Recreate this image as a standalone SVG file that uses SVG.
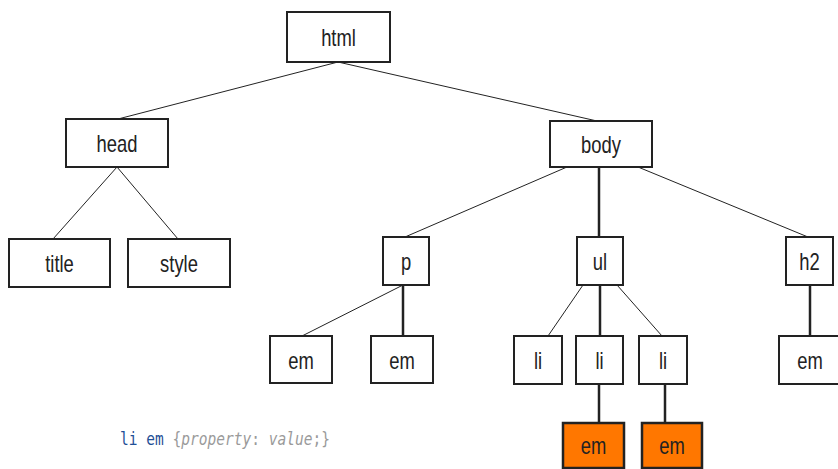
<svg xmlns="http://www.w3.org/2000/svg" width="838" height="469" viewBox="0 0 838 469">
<style>
  .box { fill: #ffffff; stroke: #222222; stroke-width: 2; }
  .hl { fill: #ff7700; stroke: #222222; stroke-width: 2.5; }
  .lbl { font-family: "Liberation Sans", Arial, sans-serif; font-size: 23px; fill: #222222; text-anchor: middle; }
  .thin { stroke: #222222; stroke-width: 1; fill: none; }
  .thick { stroke: #222222; stroke-width: 2.5; fill: none; }
  .code { font-family: "DejaVu Sans Mono", monospace; font-size: 17.5px; }
  .kw { fill: #1f4f96; }
  .gr { fill: #9a9a9a; }
  .it { font-style: italic; }
</style>
<rect width="838" height="469" fill="#ffffff"/>
<g id="connectors">
  <line class="thin" x1="338" y1="62" x2="118" y2="119"/>
  <line class="thin" x1="338" y1="62" x2="597" y2="121"/>
  <line class="thin" x1="117" y1="167" x2="53" y2="239"/>
  <line class="thin" x1="117" y1="167" x2="178" y2="239"/>
  <line class="thin" x1="567" y1="167" x2="405" y2="237"/>
  <line class="thick" x1="599" y1="167" x2="599" y2="237"/>
  <line class="thin" x1="638" y1="167" x2="808" y2="237"/>
  <line class="thin" x1="403" y1="285" x2="302" y2="336"/>
  <line class="thick" x1="403" y1="285" x2="403" y2="336"/>
  <line class="thin" x1="583" y1="285" x2="548" y2="336"/>
  <line class="thick" x1="600" y1="285" x2="600" y2="336"/>
  <line class="thin" x1="617" y1="285" x2="662" y2="336"/>
  <line class="thick" x1="599" y1="384" x2="599" y2="423"/>
  <line class="thick" x1="665" y1="384" x2="665" y2="423"/>
  <line class="thick" x1="810" y1="285" x2="810" y2="336"/>
</g>
<g id="n-html"><rect class="box" x="287" y="12" width="103" height="50"/><text class="lbl" transform="translate(338.5 46) scale(0.8 1)">html</text></g>
<g id="n-head"><rect class="box" x="66" y="119" width="102" height="48"/><text class="lbl" transform="translate(117 152) scale(0.8 1)">head</text></g>
<g id="n-title"><rect class="box" x="9" y="239" width="101" height="48"/><text class="lbl" transform="translate(59.5 272) scale(0.8 1)">title</text></g>
<g id="n-style"><rect class="box" x="128" y="239" width="102" height="48"/><text class="lbl" transform="translate(179 272) scale(0.8 1)">style</text></g>
<g id="n-body"><rect class="box" x="550" y="121" width="102" height="46"/><text class="lbl" transform="translate(601 153) scale(0.8 1)">body</text></g>
<g id="n-p"><rect class="box" x="383" y="237" width="46" height="48"/><text class="lbl" transform="translate(406 270) scale(0.8 1)">p</text></g>
<g id="n-ul"><rect class="box" x="577" y="237" width="46" height="48"/><text class="lbl" transform="translate(600 270) scale(0.8 1)">ul</text></g>
<g id="n-h2"><rect class="box" x="786" y="237" width="47" height="48"/><text class="lbl" transform="translate(809.5 270) scale(0.8 1)">h2</text></g>
<g id="n-em1"><rect class="box" x="270" y="336" width="62" height="47"/><text class="lbl" transform="translate(301 369) scale(0.8 1)">em</text></g>
<g id="n-em2"><rect class="box" x="371" y="336" width="62" height="47"/><text class="lbl" transform="translate(402 369) scale(0.8 1)">em</text></g>
<g id="n-li1"><rect class="box" x="514" y="336" width="48" height="48"/><text class="lbl" transform="translate(538 369) scale(0.8 1)">li</text></g>
<g id="n-li2"><rect class="box" x="576" y="336" width="47" height="48"/><text class="lbl" transform="translate(599.5 369) scale(0.8 1)">li</text></g>
<g id="n-li3"><rect class="box" x="639" y="336" width="48" height="48"/><text class="lbl" transform="translate(663 369) scale(0.8 1)">li</text></g>
<g id="n-em3"><rect class="box" x="779" y="336" width="62" height="48"/><text class="lbl" transform="translate(810 369) scale(0.8 1)">em</text></g>
<g id="n-em4"><rect class="hl" x="563" y="423" width="61" height="45"/><text class="lbl" transform="translate(593.5 454) scale(0.8 1)">em</text></g>
<g id="n-em5"><rect class="hl" x="642" y="423" width="60" height="45"/><text class="lbl" transform="translate(672 454) scale(0.8 1)">em</text></g>
<g id="code">
  <text class="code" transform="translate(120 445) scale(0.83 1)" xml:space="preserve"><tspan class="kw">li em </tspan><tspan class="gr">{</tspan><tspan class="gr it">property</tspan><tspan class="gr">: </tspan><tspan class="gr it">value</tspan><tspan class="gr">;}</tspan></text>
</g>
</svg>
